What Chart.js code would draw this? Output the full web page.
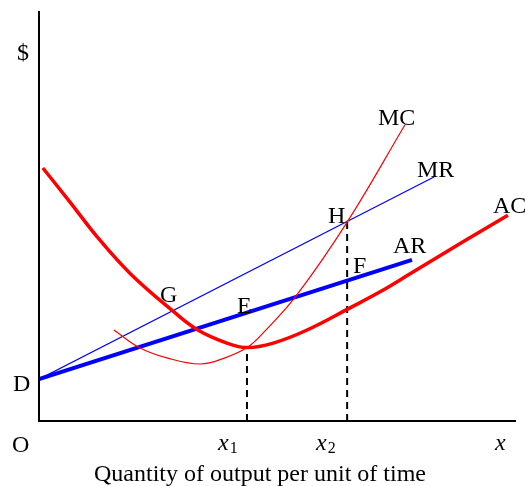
<!DOCTYPE html>
<html>
<head>
<meta charset="utf-8">
<script src="https://cdn.jsdelivr.net/npm/chart.js@4.4.1/dist/chart.umd.min.js"></script>
<style>
  html, body { margin: 0; padding: 0; background: #fff; }
  #wrap { width: 526px; height: 486px; }
</style>
</head>
<body>
<div id="wrap"><canvas id="costChart" width="526" height="486"></canvas></div>
<script>
// quantity (0-100) / dollars (0-100)
const acX = [0.8, 6.5, 12.2, 19.1, 28.1, 33.3, 39.4, 43.6, 49.1, 56.2, 65.2, 71.5, 77.8, 88.9, 98.3];
const acY = [61.7, 53.4, 44.9, 36.0, 26.8, 22.2, 19.0, 17.9, 19.0, 22.2, 27.6, 31.5, 35.9, 43.7, 50.2];

const mcX = [15.7, 21.2, 26.8, 33.8, 39.0, 43.6, 47.0, 53.9, 64.6, 76.7];
const mcY = [22.2, 17.8, 15.4, 13.9, 15.4, 17.9, 21.5, 30.5, 48.5, 72.2];

const mrX = [0, 82.8];
const mrY = [10.2, 59.5];

const arX = [0, 78.2];
const arY = [10.2, 39.3];

const x1 = 43.6;
const x2 = 64.6;
const dropX1 = [0, 17.9];
const dropX2 = [0, 48.6];

const SERIF = '"Liberation Serif", "Times New Roman", serif';

function toPoints(xs, ys) {
  return xs.map((x, i) => ({ x, y: ys[i] }));
}

// text placed on the figure, in canvas pixels
const LABELS = [
  { t: "$", x: 17, y: 60 },
  { t: "O", x: 12, y: 452 },
  { t: "D", x: 13, y: 391 },
  { t: "G", x: 160, y: 302 },
  { t: "E", x: 237, y: 313 },
  { t: "H", x: 328, y: 223 },
  { t: "F", x: 353, y: 273 },
  { t: "AR", x: 393, y: 253 },
  { t: "MC", x: 378, y: 125 },
  { t: "MR", x: 417, y: 177 },
  { t: "AC", x: 493, y: 213 },
];

const axesAndText = {
  id: "axesAndText",
  afterDraw(chart) {
    const { ctx, chartArea: a } = chart;
    ctx.save();
    ctx.strokeStyle = "#000";
    ctx.lineWidth = 2;
    ctx.beginPath();
    ctx.moveTo(a.left, a.top);
    ctx.lineTo(a.left, a.bottom);
    ctx.lineTo(a.right, a.bottom);
    ctx.stroke();

    ctx.fillStyle = "#000";
    ctx.textBaseline = "alphabetic";
    ctx.textAlign = "left";
    ctx.font = `24px ${SERIF}`;
    LABELS.forEach((l) => ctx.fillText(l.t, l.x, l.y));

    const sub = (x, s) => {
      ctx.font = `italic 24px ${SERIF}`;
      ctx.fillText("x", x, 450);
      if (s) {
        const w = ctx.measureText("x").width;
        ctx.font = `16px ${SERIF}`;
        ctx.fillText(s, x + w + 1, 453);
      }
    };
    sub(218, "1");
    sub(316, "2");
    sub(495, "");

    ctx.font = `24px ${SERIF}`;
    ctx.textAlign = "center";
    ctx.fillText("Quantity of output per unit of time", 260, 481);
    ctx.restore();
  },
};

new Chart(document.getElementById("costChart"), {
  type: "line",
  data: {
    datasets: [
      { label: "AC", data: toPoints(acX, acY), borderColor: "#ff0000", borderWidth: 3.5, tension: 0.4 },
      { label: "MC", data: toPoints(mcX, mcY), borderColor: "#ff0000", borderWidth: 1.2, tension: 0.4 },
      { label: "MR", data: toPoints(mrX, mrY), borderColor: "#0000ff", borderWidth: 1.2 },
      { label: "AR", data: toPoints(arX, arY), borderColor: "#0000ff", borderWidth: 4 },
      { label: "x1", data: toPoints([x1, x1], dropX1), borderColor: "#000", borderWidth: 2, borderDash: [7, 5] },
      { label: "x2", data: toPoints([x2, x2], dropX2), borderColor: "#000", borderWidth: 2, borderDash: [7, 5] },
    ],
  },
  options: {
    responsive: false,
    animation: false,
    devicePixelRatio: 1,
    layout: { padding: { left: 39, top: 11, right: 10, bottom: 65 } },
    elements: { point: { radius: 0, hoverRadius: 0 }, line: { fill: false, borderCapStyle: "butt" } },
    plugins: { legend: { display: false }, tooltip: { enabled: false } },
    scales: {
      x: { type: "linear", min: 0, max: 100, display: false },
      y: { type: "linear", min: 0, max: 100, display: false },
    },
  },
  plugins: [axesAndText],
});
</script>
</body>
</html>
